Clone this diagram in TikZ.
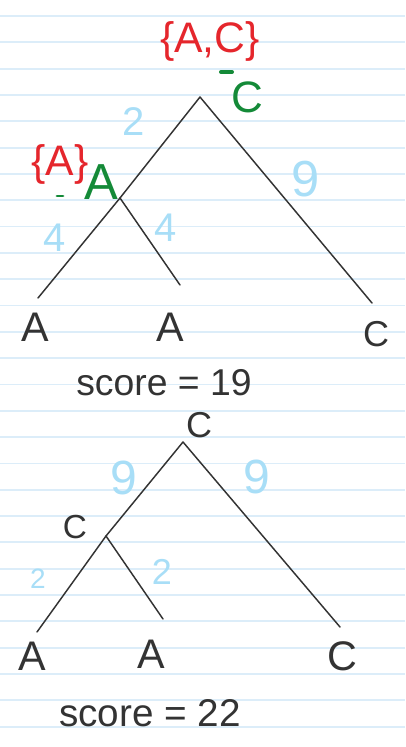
\documentclass[tikz,border=0pt]{standalone}
\usepackage{fontspec}
\setmainfont{Liberation Sans}
\usetikzlibrary{positioning}
\definecolor{inkgray}{HTML}{333333}
\definecolor{inkred}{HTML}{E5262C}
\definecolor{inkgreen}{HTML}{148A38}
\definecolor{inkblue}{HTML}{A8DEF7}
\definecolor{rulingblue}{HTML}{DCEDF9}
\tikzset{
  branch/.style={draw=inkgray, line width=1.1pt, line cap=round, line join=round},
  leaf/.style={text=inkgray, inner sep=0pt, font=\fontsize{31}{31}\selectfont},
  weight/.style={text=inkblue, inner sep=0pt, font=\fontsize{30}{30}\selectfont},
  setlabel/.style={text=inkred, inner sep=0pt, font=\fontsize{32}{32}\selectfont},
  pick/.style={text=inkgreen, inner sep=0pt, font=\fontsize{33}{33}\selectfont},
  scoreline/.style={text=inkgray, inner sep=0pt, font=\fontsize{28}{28}\selectfont},
  ruling/.style={draw=rulingblue, line width=1.4pt},
  tick/.style={draw=inkgreen, line width=3pt, line cap=round}
}

\begin{document}
\begin{tikzpicture}[x=0.75pt, y=-0.75pt]
  \useasboundingbox[fill=white] (0,0) rectangle (405,747);
  % ruled paper
  \foreach \k in {0,...,27}
    \draw[ruling] (0,16+26.32*\k) -- (405,16+26.32*\k);

  % first tree
  \coordinate (r1) at (200,97);
  \coordinate (v1) at (120,198);
  \coordinate (t1a) at (38,298);
  \coordinate (t1b) at (180,285);
  \coordinate (t1c) at (372,303);
  \node[leaf] (a1) at (35,327) {A};
  \node[leaf] (a2) at (170,327) {A};
  \node[leaf, font=\fontsize{27}{27}\selectfont] (c1) at (376,334) {C};
  \draw[branch] (r1) -- (v1);
  \draw[branch] (r1) -- (t1c);
  \draw[branch] (v1) -- (t1a);
  \draw[branch] (v1) -- (t1b);
  \node[weight] (w12) at (134,122) {2};
  \node[weight, font=\fontsize{38}{38}\selectfont] (w19) at (306,179) {9};
  \node[weight] (w14a) at (55,238) {4};
  \node[weight] (w14b) at (166,228) {4};
  \node[setlabel] (s1) at (210,41) {\{A,C\}};
  \node[pick] (p1) at (247,97) {C};
  \draw[tick] (221,72) -- (232,72);
  \node[setlabel] (s2) at (60,164) {\{A\}};
  \node[pick, font=\fontsize{38}{38}\selectfont] (p2) at (101,182) {A};
  \draw[tick, line width=2.2pt] (57,196) -- (63,196);
  \node[scoreline] (sc1) at (164,383) {score = 19};

  % second tree
  \coordinate (r2) at (183,442);
  \coordinate (v2) at (106,536);
  \coordinate (t2a) at (37,632);
  \coordinate (t2b) at (163,619);
  \coordinate (t2c) at (340,627);
  \node[leaf, font=\fontsize{27}{27}\selectfont] (c2) at (199,425) {C};
  \node[leaf, font=\fontsize{25}{25}\selectfont] (c3) at (75,527) {C};
  \node[leaf] (a3) at (32,656) {A};
  \node[leaf] (a4) at (151,654) {A};
  \node[leaf] (c4) at (342,656) {C};
  \draw[branch] (r2) -- (v2);
  \draw[branch] (r2) -- (t2c);
  \draw[branch] (v2) -- (t2a);
  \draw[branch] (v2) -- (t2b);
  \node[weight, font=\fontsize{36}{36}\selectfont] (w29a) at (124,478) {9};
  \node[weight, font=\fontsize{36}{36}\selectfont] (w29b) at (257,477) {9};
  \node[weight, font=\fontsize{21}{21}\selectfont] (w22a) at (38,579) {2};
  \node[weight, font=\fontsize{27}{27}\selectfont] (w22b) at (162,572) {2};
  \node[scoreline, font=\fontsize{29}{29}\selectfont] (sc2) at (150,713) {score = 22};
\end{tikzpicture}
\end{document}
